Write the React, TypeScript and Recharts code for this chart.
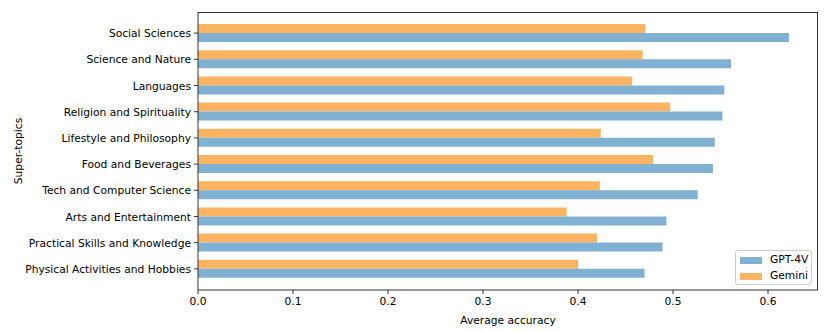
import React from "react";
import { BarChart, Bar, XAxis, YAxis, Label } from "recharts";

const topics = [
  "Social Sciences",
  "Science and Nature",
  "Languages",
  "Religion and Spirituality",
  "Lifestyle and Philosophy",
  "Food and Beverages",
  "Tech and Computer Science",
  "Arts and Entertainment",
  "Practical Skills and Knowledge",
  "Physical Activities and Hobbies",
];
const gpt4v = [0.622, 0.561, 0.554, 0.552, 0.544, 0.542, 0.526, 0.493, 0.489, 0.47];
const gemini = [0.471, 0.468, 0.457, 0.497, 0.424, 0.479, 0.423, 0.388, 0.42, 0.4];
const xTicks = [0, 0.1, 0.2, 0.3, 0.4, 0.5, 0.6];

const BLUE = "#80b1d3";
const ORANGE = "#fdb462";
const AXIS = "#333333";
const FONT = "DejaVu Sans, sans-serif";
const FS = 10.7;

const data = topics.map((t, i) => ({ topic: t, gpt4v: gpt4v[i], gemini: gemini[i] }));

// single-line category tick (default tick wraps long labels)
function TopicTick(props: any) {
  const { x, y, payload } = props;
  return (
    <text x={x - 1} y={y} dy={4} textAnchor="end" fill="#000" fontSize={FS} fontFamily={FONT}>
      {payload.value}
    </text>
  );
}

export default function App() {
  return (
    <div style={{ position: "absolute", left: 0, top: 0, width: 830, height: 332, background: "#fff", fontFamily: FONT }}>
      <BarChart
        width={830}
        height={332}
        data={data}
        layout="vertical"
        margin={{ top: 12, right: 12, bottom: 0, left: 0 }}
        barGap={0}
      >
        <XAxis
          type="number"
          domain={[0, 0.6526]}
          ticks={xTicks}
          tickFormatter={(v: number) => v.toFixed(1)}
          allowDataOverflow
          stroke={AXIS}
          tick={{ fill: "#000", fontSize: FS, fontFamily: FONT }}
          tickSize={4}
          tickMargin={3}
          height={42}
        >
          <Label value="Average accuracy" position="insideBottom" offset={8} fill="#000" fontSize={FS} fontFamily={FONT} />
        </XAxis>
        <YAxis
          type="category"
          dataKey="topic"
          width={198}
          stroke={AXIS}
          tick={<TopicTick />}
          tickSize={4}
          interval={0}
          padding={{ top: 8, bottom: 8 }}
        >
          <Label value="Super-topics" angle={-90} position="insideLeft" offset={18} fill="#000" fontSize={FS} fontFamily={FONT} style={{ textAnchor: "middle" }} />
        </YAxis>
        <Bar dataKey="gemini" name="Gemini" fill={ORANGE} barSize={9} isAnimationActive={false} />
        <Bar dataKey="gpt4v" name="GPT-4V" fill={BLUE} barSize={9} isAnimationActive={false} />
      </BarChart>
      {/* top and right spines */}
      <div
        style={{
          position: "absolute",
          left: 198,
          top: 12,
          width: 620,
          height: 278,
          borderTop: `1px solid ${AXIS}`,
          borderRight: `1px solid ${AXIS}`,
          boxSizing: "border-box",
          pointerEvents: "none",
        }}
      />
      <div
        style={{
          position: "absolute",
          left: 735,
          top: 250,
          width: 77,
          height: 35,
          border: "1px solid #cccccc",
          borderRadius: 3,
          background: "#fff",
          fontSize: FS,
          lineHeight: "16px",
          padding: "1px 0 0 4px",
          boxSizing: "border-box",
        }}
      >
        {[
          { label: "GPT-4V", color: BLUE },
          { label: "Gemini", color: ORANGE },
        ].map((e) => (
          <div key={e.label} style={{ display: "flex", alignItems: "center", height: 16 }}>
            <span style={{ display: "inline-block", width: 22, height: 7, background: e.color, marginRight: 8 }} />
            <span>{e.label}</span>
          </div>
        ))}
      </div>
    </div>
  );
}
